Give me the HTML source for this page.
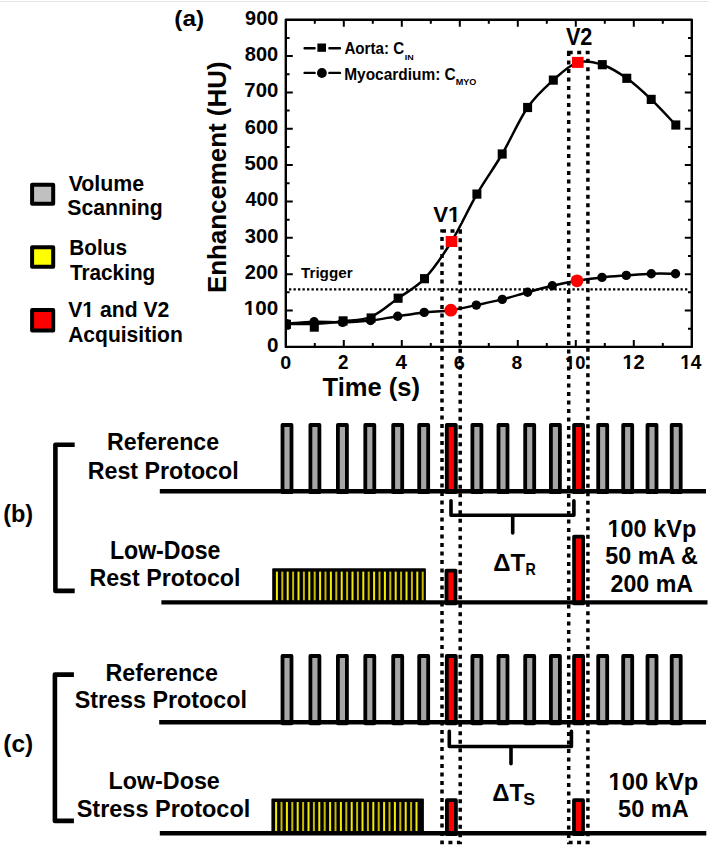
<!DOCTYPE html>
<html><head><meta charset="utf-8"><style>
html,body{margin:0;padding:0;background:#fff}
svg{display:block;font-family:"Liberation Sans",sans-serif;font-weight:bold}
</style></head><body>
<svg width="710" height="846" viewBox="0 0 710 846">
<rect width="710" height="846" fill="#fff"/>
<line x1="0" y1="1.5" x2="708.5" y2="1.5" stroke="#e3e3e3" stroke-width="1.1"/>
<path d="M314.8 346.9V342.9M314.8 19.7V23.7M343.8 346.9V339.9M343.8 19.7V26.7M372.8 346.9V342.9M372.8 19.7V23.7M401.8 346.9V339.9M401.8 19.7V26.7M430.8 346.9V342.9M430.8 19.7V23.7M459.8 346.9V339.9M459.8 19.7V26.7M488.8 346.9V342.9M488.8 19.7V23.7M517.8 346.9V339.9M517.8 19.7V26.7M546.8 346.9V342.9M546.8 19.7V23.7M575.8 346.9V339.9M575.8 19.7V26.7M604.8 346.9V342.9M604.8 19.7V23.7M633.8 346.9V339.9M633.8 19.7V26.7M662.8 346.9V342.9M662.8 19.7V23.7M285.8 328.72H289.6M691.8 328.72H688M285.8 310.54H292.8M691.8 310.54H684.8M285.8 292.37H289.6M691.8 292.37H688M285.8 274.19H292.8M691.8 274.19H684.8M285.8 256.01H289.6M691.8 256.01H688M285.8 237.83H292.8M691.8 237.83H684.8M285.8 219.66H289.6M691.8 219.66H688M285.8 201.48H292.8M691.8 201.48H684.8M285.8 183.3H289.6M691.8 183.3H688M285.8 165.12H292.8M691.8 165.12H684.8M285.8 146.94H289.6M691.8 146.94H688M285.8 128.77H292.8M691.8 128.77H684.8M285.8 110.59H289.6M691.8 110.59H688M285.8 92.41H292.8M691.8 92.41H684.8M285.8 74.23H289.6M691.8 74.23H688M285.8 56.06H292.8M691.8 56.06H684.8M285.8 37.88H289.6M691.8 37.88H688" stroke="#000" stroke-width="2"/>
<rect x="285.8" y="19.7" width="406.0" height="327.2" fill="none" stroke="#000" stroke-width="2.4" stroke-linejoin="round"/>
<line x1="289" y1="289.4" x2="689" y2="289.4" stroke="#000" stroke-width="2.3" stroke-dasharray="2.3 2.2"/>
<path d="M286.5 324C291.13 323.98 304.87 324.37 314.3 323.9C323.73 323.43 333.63 322.38 343.1 321.2C352.57 320.02 361.93 320.63 371.1 316.8C380.27 312.97 389.2 304.55 398.1 298.2C407 291.85 415.6 288.15 424.5 278.7C433.4 269.25 442.77 255.6 451.5 241.5C460.23 227.4 468.45 208.68 476.9 194.1C485.35 179.52 493.75 168.43 502.2 154C510.65 139.57 519.08 119.82 527.6 107.5C536.12 95.18 544.93 87.62 553.3 80.1C561.67 72.58 569.63 64.97 577.8 62.4C585.97 59.83 594.13 62.05 602.3 64.7C610.47 67.35 618.65 72.52 626.8 78.3C634.95 84.08 643.03 91.62 651.2 99.4C659.37 107.18 671.7 120.73 675.8 125" fill="none" stroke="#000" stroke-width="2.5"/>
<path d="M286.5 323.8C291.1 323.45 304.75 321.93 314.1 321.7C323.45 321.47 333.2 322.6 342.6 322.4C352 322.2 361.32 321.53 370.5 320.5C379.68 319.47 388.75 317.55 397.7 316.2C406.65 314.85 415.35 313.4 424.2 312.4C433.05 311.4 442.12 311.42 450.8 310.2C459.48 308.98 467.72 306.9 476.3 305.1C484.88 303.3 493.75 301.53 502.3 299.4C510.85 297.27 519.27 294.57 527.6 292.3C535.93 290.03 544.07 287.72 552.3 285.8C560.53 283.88 568.72 282.2 577 280.8C585.28 279.4 593.78 278.3 602 277.4C610.22 276.5 618.08 276.02 626.3 275.4C634.52 274.78 643.1 273.98 651.3 273.7C659.5 273.42 671.47 273.7 675.5 273.7" fill="none" stroke="#000" stroke-width="2.5"/>
<defs><clipPath id="pc"><rect x="285.8" y="19.7" width="406" height="327.2"/></clipPath></defs>
<g clip-path="url(#pc)">
<circle cx="286.5" cy="323.8" r="4.7" fill="#000"/>
<circle cx="314.1" cy="321.7" r="4.7" fill="#000"/>
<circle cx="342.6" cy="322.4" r="4.7" fill="#000"/>
<circle cx="370.5" cy="320.5" r="4.7" fill="#000"/>
<circle cx="397.7" cy="316.2" r="4.7" fill="#000"/>
<circle cx="424.2" cy="312.4" r="4.7" fill="#000"/>
<circle cx="450.8" cy="310.2" r="6.4" fill="#f00"/>
<circle cx="476.3" cy="305.1" r="4.7" fill="#000"/>
<circle cx="502.3" cy="299.4" r="4.7" fill="#000"/>
<circle cx="527.6" cy="292.3" r="4.7" fill="#000"/>
<circle cx="552.3" cy="285.8" r="4.7" fill="#000"/>
<circle cx="577.0" cy="280.8" r="6.4" fill="#f00"/>
<circle cx="602.0" cy="277.4" r="4.7" fill="#000"/>
<circle cx="626.3" cy="275.4" r="4.7" fill="#000"/>
<circle cx="651.3" cy="273.7" r="4.7" fill="#000"/>
<circle cx="675.5" cy="273.7" r="4.7" fill="#000"/>
<rect x="282.0" y="319.7" width="9" height="9.2" fill="#000"/>
<rect x="309.8" y="322.5" width="9" height="9.2" fill="#000"/>
<rect x="338.6" y="316.29999999999995" width="9" height="9.2" fill="#000"/>
<rect x="366.6" y="313.4" width="9" height="9.2" fill="#000"/>
<rect x="393.6" y="293.59999999999997" width="9" height="9.2" fill="#000"/>
<rect x="420.0" y="274.09999999999997" width="9" height="9.2" fill="#000"/>
<rect x="445.7" y="236.0" width="11.6" height="11" fill="#f00"/>
<rect x="472.4" y="189.5" width="9" height="9.2" fill="#000"/>
<rect x="497.7" y="149.4" width="9" height="9.2" fill="#000"/>
<rect x="523.1" y="102.9" width="9" height="9.2" fill="#000"/>
<rect x="548.8" y="75.5" width="9" height="9.2" fill="#000"/>
<rect x="572.0" y="56.9" width="11.6" height="11" fill="#f00"/>
<rect x="597.8" y="60.1" width="9" height="9.2" fill="#000"/>
<rect x="622.3" y="73.7" width="9" height="9.2" fill="#000"/>
<rect x="646.7" y="94.80000000000001" width="9" height="9.2" fill="#000"/>
<rect x="671.3" y="120.4" width="9" height="9.2" fill="#000"/>
</g>
<path d="M304.6 48.2H314.6M329.4 48.2H340M304.6 72.9H314.6M329.4 72.9H340" stroke="#000" stroke-width="2.4" stroke-linecap="round"/>
<rect x="317.4" y="43.5" width="8.6" height="8.3" fill="#000"/>
<circle cx="321.9" cy="73" r="4.9" fill="#000"/>
<rect x="32.1" y="184.7" width="21.1" height="19" fill="#c0c0c0" stroke="#000" stroke-width="4" stroke-linejoin="round"/>
<rect x="32.1" y="247.3" width="21.1" height="19.5" fill="#ffff00" stroke="#000" stroke-width="4" stroke-linejoin="round"/>
<rect x="32.1" y="310" width="21.1" height="20.4" fill="#ff0000" stroke="#000" stroke-width="4" stroke-linejoin="round"/>
<path d="M74.7 444.8H55.4V590.9H74.7" fill="none" stroke="#000" stroke-width="4.6" stroke-linejoin="round"/>
<path d="M73.9 674.6H54.9V820.9H73.9" fill="none" stroke="#000" stroke-width="4.6" stroke-linejoin="round"/>
<rect x="282.5" y="425" width="9.0" height="67.2" fill="#a6a6a6" stroke="#000" stroke-width="3.8" stroke-linejoin="round"/>
<rect x="310.4" y="425" width="9.0" height="67.2" fill="#a6a6a6" stroke="#000" stroke-width="3.8" stroke-linejoin="round"/>
<rect x="337.9" y="425" width="9.0" height="67.2" fill="#a6a6a6" stroke="#000" stroke-width="3.8" stroke-linejoin="round"/>
<rect x="365.3" y="425" width="9.0" height="67.2" fill="#a6a6a6" stroke="#000" stroke-width="3.8" stroke-linejoin="round"/>
<rect x="393.2" y="425" width="9.0" height="67.2" fill="#a6a6a6" stroke="#000" stroke-width="3.8" stroke-linejoin="round"/>
<rect x="419.2" y="425" width="9.0" height="67.2" fill="#a6a6a6" stroke="#000" stroke-width="3.8" stroke-linejoin="round"/>
<rect x="446.8" y="425" width="9.0" height="67.2" fill="#f00" stroke="#000" stroke-width="3.8" stroke-linejoin="round"/>
<rect x="472.4" y="425" width="9.0" height="67.2" fill="#a6a6a6" stroke="#000" stroke-width="3.8" stroke-linejoin="round"/>
<rect x="498.5" y="425" width="9.0" height="67.2" fill="#a6a6a6" stroke="#000" stroke-width="3.8" stroke-linejoin="round"/>
<rect x="525.2" y="425" width="9.0" height="67.2" fill="#a6a6a6" stroke="#000" stroke-width="3.8" stroke-linejoin="round"/>
<rect x="550.9" y="425" width="9.0" height="67.2" fill="#a6a6a6" stroke="#000" stroke-width="3.8" stroke-linejoin="round"/>
<rect x="574.1" y="425" width="9.0" height="67.2" fill="#f00" stroke="#000" stroke-width="3.8" stroke-linejoin="round"/>
<rect x="598.2" y="425" width="9.0" height="67.2" fill="#a6a6a6" stroke="#000" stroke-width="3.8" stroke-linejoin="round"/>
<rect x="623.2" y="425" width="9.0" height="67.2" fill="#a6a6a6" stroke="#000" stroke-width="3.8" stroke-linejoin="round"/>
<rect x="647.5" y="425" width="9.0" height="67.2" fill="#a6a6a6" stroke="#000" stroke-width="3.8" stroke-linejoin="round"/>
<rect x="671.7" y="425" width="9.0" height="67.2" fill="#a6a6a6" stroke="#000" stroke-width="3.8" stroke-linejoin="round"/>
<rect x="282.5" y="656" width="9.0" height="67.3" fill="#a6a6a6" stroke="#000" stroke-width="3.8" stroke-linejoin="round"/>
<rect x="310.4" y="656" width="9.0" height="67.3" fill="#a6a6a6" stroke="#000" stroke-width="3.8" stroke-linejoin="round"/>
<rect x="337.9" y="656" width="9.0" height="67.3" fill="#a6a6a6" stroke="#000" stroke-width="3.8" stroke-linejoin="round"/>
<rect x="365.3" y="656" width="9.0" height="67.3" fill="#a6a6a6" stroke="#000" stroke-width="3.8" stroke-linejoin="round"/>
<rect x="393.2" y="656" width="9.0" height="67.3" fill="#a6a6a6" stroke="#000" stroke-width="3.8" stroke-linejoin="round"/>
<rect x="419.2" y="656" width="9.0" height="67.3" fill="#a6a6a6" stroke="#000" stroke-width="3.8" stroke-linejoin="round"/>
<rect x="446.8" y="656" width="9.0" height="67.3" fill="#f00" stroke="#000" stroke-width="3.8" stroke-linejoin="round"/>
<rect x="472.4" y="656" width="9.0" height="67.3" fill="#a6a6a6" stroke="#000" stroke-width="3.8" stroke-linejoin="round"/>
<rect x="498.5" y="656" width="9.0" height="67.3" fill="#a6a6a6" stroke="#000" stroke-width="3.8" stroke-linejoin="round"/>
<rect x="525.2" y="656" width="9.0" height="67.3" fill="#a6a6a6" stroke="#000" stroke-width="3.8" stroke-linejoin="round"/>
<rect x="550.9" y="656" width="9.0" height="67.3" fill="#a6a6a6" stroke="#000" stroke-width="3.8" stroke-linejoin="round"/>
<rect x="574.1" y="656" width="9.0" height="67.3" fill="#f00" stroke="#000" stroke-width="3.8" stroke-linejoin="round"/>
<rect x="598.2" y="656" width="9.0" height="67.3" fill="#a6a6a6" stroke="#000" stroke-width="3.8" stroke-linejoin="round"/>
<rect x="623.2" y="656" width="9.0" height="67.3" fill="#a6a6a6" stroke="#000" stroke-width="3.8" stroke-linejoin="round"/>
<rect x="647.5" y="656" width="9.0" height="67.3" fill="#a6a6a6" stroke="#000" stroke-width="3.8" stroke-linejoin="round"/>
<rect x="671.7" y="656" width="9.0" height="67.3" fill="#a6a6a6" stroke="#000" stroke-width="3.8" stroke-linejoin="round"/>
<rect x="272.2" y="568.2" width="153.7" height="34.2" fill="#000" rx="1"/>
<rect x="275.9" y="571.6" width="2" height="29.2" fill="#f2ea00"/>
<rect x="281.3" y="571.6" width="2" height="29.2" fill="#c8b800"/>
<rect x="286.7" y="571.6" width="2" height="29.2" fill="#f2ea00"/>
<rect x="292.1" y="571.6" width="2" height="29.2" fill="#c8b800"/>
<rect x="297.5" y="571.6" width="2" height="29.2" fill="#f2ea00"/>
<rect x="302.9" y="571.6" width="2" height="29.2" fill="#c8b800"/>
<rect x="308.3" y="571.6" width="2" height="29.2" fill="#f2ea00"/>
<rect x="313.7" y="571.6" width="2" height="29.2" fill="#c8b800"/>
<rect x="319.1" y="571.6" width="2" height="29.2" fill="#f2ea00"/>
<rect x="324.5" y="571.6" width="2" height="29.2" fill="#c8b800"/>
<rect x="329.9" y="571.6" width="2" height="29.2" fill="#f2ea00"/>
<rect x="335.3" y="571.6" width="2" height="29.2" fill="#c8b800"/>
<rect x="340.7" y="571.6" width="2" height="29.2" fill="#f2ea00"/>
<rect x="346.1" y="571.6" width="2" height="29.2" fill="#c8b800"/>
<rect x="351.5" y="571.6" width="2" height="29.2" fill="#f2ea00"/>
<rect x="356.9" y="571.6" width="2" height="29.2" fill="#c8b800"/>
<rect x="362.3" y="571.6" width="2" height="29.2" fill="#f2ea00"/>
<rect x="367.7" y="571.6" width="2" height="29.2" fill="#c8b800"/>
<rect x="373.1" y="571.6" width="2" height="29.2" fill="#f2ea00"/>
<rect x="378.5" y="571.6" width="2" height="29.2" fill="#c8b800"/>
<rect x="383.9" y="571.6" width="2" height="29.2" fill="#f2ea00"/>
<rect x="389.3" y="571.6" width="2" height="29.2" fill="#c8b800"/>
<rect x="394.7" y="571.6" width="2" height="29.2" fill="#f2ea00"/>
<rect x="400.1" y="571.6" width="2" height="29.2" fill="#c8b800"/>
<rect x="405.5" y="571.6" width="2" height="29.2" fill="#f2ea00"/>
<rect x="410.9" y="571.6" width="2" height="29.2" fill="#c8b800"/>
<rect x="416.3" y="571.6" width="2" height="29.2" fill="#f2ea00"/>
<rect x="421.7" y="571.6" width="2" height="29.2" fill="#c8b800"/>
<rect x="271.4" y="798.6" width="152.5" height="34.6" fill="#000" rx="1"/>
<rect x="275.1" y="802" width="2" height="29.6" fill="#f2ea00"/>
<rect x="280.5" y="802" width="2" height="29.6" fill="#c8b800"/>
<rect x="285.9" y="802" width="2" height="29.6" fill="#f2ea00"/>
<rect x="291.3" y="802" width="2" height="29.6" fill="#c8b800"/>
<rect x="296.7" y="802" width="2" height="29.6" fill="#f2ea00"/>
<rect x="302.1" y="802" width="2" height="29.6" fill="#c8b800"/>
<rect x="307.5" y="802" width="2" height="29.6" fill="#f2ea00"/>
<rect x="312.9" y="802" width="2" height="29.6" fill="#c8b800"/>
<rect x="318.3" y="802" width="2" height="29.6" fill="#f2ea00"/>
<rect x="323.7" y="802" width="2" height="29.6" fill="#c8b800"/>
<rect x="329.1" y="802" width="2" height="29.6" fill="#f2ea00"/>
<rect x="334.5" y="802" width="2" height="29.6" fill="#c8b800"/>
<rect x="339.9" y="802" width="2" height="29.6" fill="#f2ea00"/>
<rect x="345.3" y="802" width="2" height="29.6" fill="#c8b800"/>
<rect x="350.7" y="802" width="2" height="29.6" fill="#f2ea00"/>
<rect x="356.1" y="802" width="2" height="29.6" fill="#c8b800"/>
<rect x="361.5" y="802" width="2" height="29.6" fill="#f2ea00"/>
<rect x="366.9" y="802" width="2" height="29.6" fill="#c8b800"/>
<rect x="372.3" y="802" width="2" height="29.6" fill="#f2ea00"/>
<rect x="377.7" y="802" width="2" height="29.6" fill="#c8b800"/>
<rect x="383.1" y="802" width="2" height="29.6" fill="#f2ea00"/>
<rect x="388.5" y="802" width="2" height="29.6" fill="#c8b800"/>
<rect x="393.9" y="802" width="2" height="29.6" fill="#f2ea00"/>
<rect x="399.3" y="802" width="2" height="29.6" fill="#c8b800"/>
<rect x="404.7" y="802" width="2" height="29.6" fill="#f2ea00"/>
<rect x="410.1" y="802" width="2" height="29.6" fill="#c8b800"/>
<rect x="415.5" y="802" width="2" height="29.6" fill="#f2ea00"/>
<rect x="446.5" y="570.6" width="9.0" height="32.8" fill="#f00" stroke="#000" stroke-width="3.8" stroke-linejoin="round"/>
<rect x="574.1" y="536.6" width="9.0" height="66.8" fill="#f00" stroke="#000" stroke-width="3.8" stroke-linejoin="round"/>
<rect x="446.9" y="800.2" width="9.0" height="34" fill="#f00" stroke="#000" stroke-width="3.8" stroke-linejoin="round"/>
<rect x="574" y="800.2" width="9.0" height="34" fill="#f00" stroke="#000" stroke-width="3.8" stroke-linejoin="round"/>
<path d="M159.8 491.2H706M161.4 602.4H707.5M159.2 722.3H706M159.8 833.2H706.3" stroke="#000" stroke-width="4.4"/>
<path d="M451 500.7V515.3H573.9V500.7M512.7 515.3V533" fill="none" stroke="#000" stroke-width="3.6" stroke-linecap="round" stroke-linejoin="round"/>
<path d="M449.3 731.3V746.5H571.4V731.3M511 746.5V763.7" fill="none" stroke="#000" stroke-width="3.6" stroke-linecap="round" stroke-linejoin="round"/>
<text x="174.38" y="25.52" font-size="22.23" textLength="29.8" lengthAdjust="spacingAndGlyphs">(a)</text>
<text x="267.03" y="351.8" font-size="19.4" textLength="11.5" lengthAdjust="spacingAndGlyphs">0</text>
<text x="243.87" y="315.45" font-size="19.4" textLength="34.49" lengthAdjust="spacingAndGlyphs">100</text>
<text x="244.87" y="279.03" font-size="19.4" textLength="33.39" lengthAdjust="spacingAndGlyphs">200</text>
<text x="244.75" y="242.6" font-size="19.4" textLength="33.66" lengthAdjust="spacingAndGlyphs">300</text>
<text x="245.5" y="206.43" font-size="19.4" textLength="32.87" lengthAdjust="spacingAndGlyphs">400</text>
<text x="244.5" y="170" font-size="19.4" textLength="33.93" lengthAdjust="spacingAndGlyphs">500</text>
<text x="244.87" y="133.58" font-size="19.4" textLength="33.39" lengthAdjust="spacingAndGlyphs">600</text>
<text x="244.37" y="97.16" font-size="19.4" textLength="33.93" lengthAdjust="spacingAndGlyphs">700</text>
<text x="244.87" y="60.98" font-size="19.4" textLength="33.39" lengthAdjust="spacingAndGlyphs">800</text>
<text x="245.12" y="24.56" font-size="19.4" textLength="33.13" lengthAdjust="spacingAndGlyphs">900</text>
<text x="280.23" y="368.82" font-size="19.07" textLength="10.94" lengthAdjust="spacingAndGlyphs">0</text>
<text x="338.12" y="369.2" font-size="19.53" textLength="10.46" lengthAdjust="spacingAndGlyphs">2</text>
<text x="395.52" y="369.07" font-size="19.53" textLength="11.46" lengthAdjust="spacingAndGlyphs">4</text>
<text x="453.75" y="368.82" font-size="19.1" textLength="11.1" lengthAdjust="spacingAndGlyphs">6</text>
<text x="511.5" y="368.82" font-size="19.07" textLength="10.7" lengthAdjust="spacingAndGlyphs">8</text>
<text x="565.07" y="368.82" font-size="19.07" textLength="20.46" lengthAdjust="spacingAndGlyphs">10</text>
<text x="622.42" y="369.2" font-size="19.53" textLength="22.3" lengthAdjust="spacingAndGlyphs">12</text>
<text x="680.2" y="369.07" font-size="19.53" textLength="21.34" lengthAdjust="spacingAndGlyphs">14</text>
<text x="322.55" y="396.35" font-size="25.26" textLength="97.37" lengthAdjust="spacingAndGlyphs">Time (s)</text>
<text x="344.43" y="53.88" font-size="15.91" textLength="59.69" lengthAdjust="spacingAndGlyphs">Aorta: C</text>
<text x="404.65" y="59.95" font-size="7.48" textLength="8.95" lengthAdjust="spacingAndGlyphs">IN</text>
<text x="344.25" y="79.52" font-size="15.9" textLength="111.49" lengthAdjust="spacingAndGlyphs">Myocardium: C</text>
<text x="455.65" y="84.58" font-size="8.38" textLength="20.71" lengthAdjust="spacingAndGlyphs">MYO</text>
<text x="301" y="278" font-size="14.22" textLength="51.59" lengthAdjust="spacingAndGlyphs">Trigger</text>
<text x="433.27" y="222.42" font-size="22.97" textLength="27.24" lengthAdjust="spacingAndGlyphs">V1</text>
<text x="565.9" y="45.2" font-size="23.45" textLength="26.52" lengthAdjust="spacingAndGlyphs">V2</text>
<text x="68.65" y="190.52" font-size="21.89" textLength="75.57" lengthAdjust="spacingAndGlyphs">Volume</text>
<text x="67.35" y="215.43" font-size="21.8" textLength="95.29" lengthAdjust="spacingAndGlyphs">Scanning</text>
<text x="69.28" y="255.22" font-size="21.82" textLength="57.68" lengthAdjust="spacingAndGlyphs">Bolus</text>
<text x="69.93" y="280" font-size="21.8" textLength="85.35" lengthAdjust="spacingAndGlyphs">Tracking</text>
<text x="68.25" y="317.28" font-size="21.89" textLength="101.05" lengthAdjust="spacingAndGlyphs">V1 and V2</text>
<text x="68.15" y="342.28" font-size="21.8" textLength="114.6" lengthAdjust="spacingAndGlyphs">Acquisition</text>
<text x="3.15" y="521.98" font-size="23.96" textLength="30.05" lengthAdjust="spacingAndGlyphs">(b)</text>
<text x="3.28" y="752.32" font-size="23.31" textLength="30.01" lengthAdjust="spacingAndGlyphs">(c)</text>
<text x="107.12" y="450.4" font-size="23.55" textLength="111.96" lengthAdjust="spacingAndGlyphs">Reference</text>
<text x="87.72" y="478.75" font-size="23.91" textLength="150.87" lengthAdjust="spacingAndGlyphs">Rest Protocol</text>
<text x="109.88" y="558.5" font-size="24.95" textLength="110.51" lengthAdjust="spacingAndGlyphs">Low-Dose</text>
<text x="89.42" y="586.3" font-size="23.19" textLength="151.11" lengthAdjust="spacingAndGlyphs">Rest Protocol</text>
<text x="105.58" y="680.75" font-size="23.53" textLength="112.41" lengthAdjust="spacingAndGlyphs">Reference</text>
<text x="74.72" y="708.3" font-size="23.94" textLength="172.2" lengthAdjust="spacingAndGlyphs">Stress Protocol</text>
<text x="108.55" y="789.42" font-size="24.69" textLength="111.23" lengthAdjust="spacingAndGlyphs">Low-Dose</text>
<text x="76.68" y="817.42" font-size="24.19" textLength="173.61" lengthAdjust="spacingAndGlyphs">Stress Protocol</text>
<text x="493.18" y="570.52" font-size="24.76" textLength="31.92" lengthAdjust="spacingAndGlyphs">ΔT</text>
<text x="525.55" y="575.32" font-size="17" textLength="10.29" lengthAdjust="spacingAndGlyphs">R</text>
<text x="492.35" y="800.52" font-size="24.76" textLength="31.92" lengthAdjust="spacingAndGlyphs">ΔT</text>
<text x="523.33" y="805.32" font-size="17.3" textLength="11.85" lengthAdjust="spacingAndGlyphs">S</text>
<text x="607.48" y="536.55" font-size="23.6" textLength="88.85" lengthAdjust="spacingAndGlyphs">100 kVp</text>
<text x="605.2" y="564.02" font-size="23.38" textLength="92.59" lengthAdjust="spacingAndGlyphs">50 mA &amp;</text>
<text x="610.53" y="591.97" font-size="23.68" textLength="82.49" lengthAdjust="spacingAndGlyphs">200 mA</text>
<text x="608.43" y="790.1" font-size="23.6" textLength="89.94" lengthAdjust="spacingAndGlyphs">100 kVp</text>
<text x="618.1" y="817.4" font-size="23.86" textLength="70.51" lengthAdjust="spacingAndGlyphs">50 mA</text>
<text transform="translate(226.2 293.1) rotate(-90)" font-size="26" textLength="231.6" lengthAdjust="spacingAndGlyphs">Enhancement (HU)</text>
<rect x="244.57" y="312.67" width="4.03" height="3.38" fill="#fff"/>
<rect x="251.64" y="312.67" width="3.76" height="3.38" fill="#fff"/>
<rect x="565.63" y="366.07" width="3.63" height="3.35" fill="#fff"/>
<rect x="571.99" y="366.07" width="3.4" height="3.35" fill="#fff"/>
<rect x="623.08" y="366.41" width="3.92" height="3.39" fill="#fff"/>
<rect x="629.95" y="366.41" width="3.66" height="3.39" fill="#fff"/>
<rect x="680.81" y="366.28" width="3.77" height="3.39" fill="#fff"/>
<rect x="687.41" y="366.28" width="3.53" height="3.39" fill="#fff"/>
<rect x="448.91" y="219.28" width="4.3" height="3.74" fill="#fff"/>
<rect x="456.47" y="219.28" width="4.02" height="3.74" fill="#fff"/>
<rect x="83.07" y="314.25" width="4.11" height="3.63" fill="#fff"/>
<rect x="90.29" y="314.25" width="3.84" height="3.63" fill="#fff"/>
<rect x="608.36" y="533.34" width="4.51" height="3.81" fill="#fff"/>
<rect x="616.29" y="533.34" width="4.21" height="3.81" fill="#fff"/>
<rect x="609.33" y="786.89" width="4.55" height="3.81" fill="#fff"/>
<rect x="617.35" y="786.89" width="4.25" height="3.81" fill="#fff"/>
<rect x="442" y="231" width="18.2" height="611.5" fill="none" stroke="#000" stroke-width="3.5" stroke-dasharray="4 4.5"/>
<rect x="568.7" y="52.5" width="19.2" height="790" fill="none" stroke="#000" stroke-width="3.5" stroke-dasharray="4 4.5"/>
</svg>
</body></html>
